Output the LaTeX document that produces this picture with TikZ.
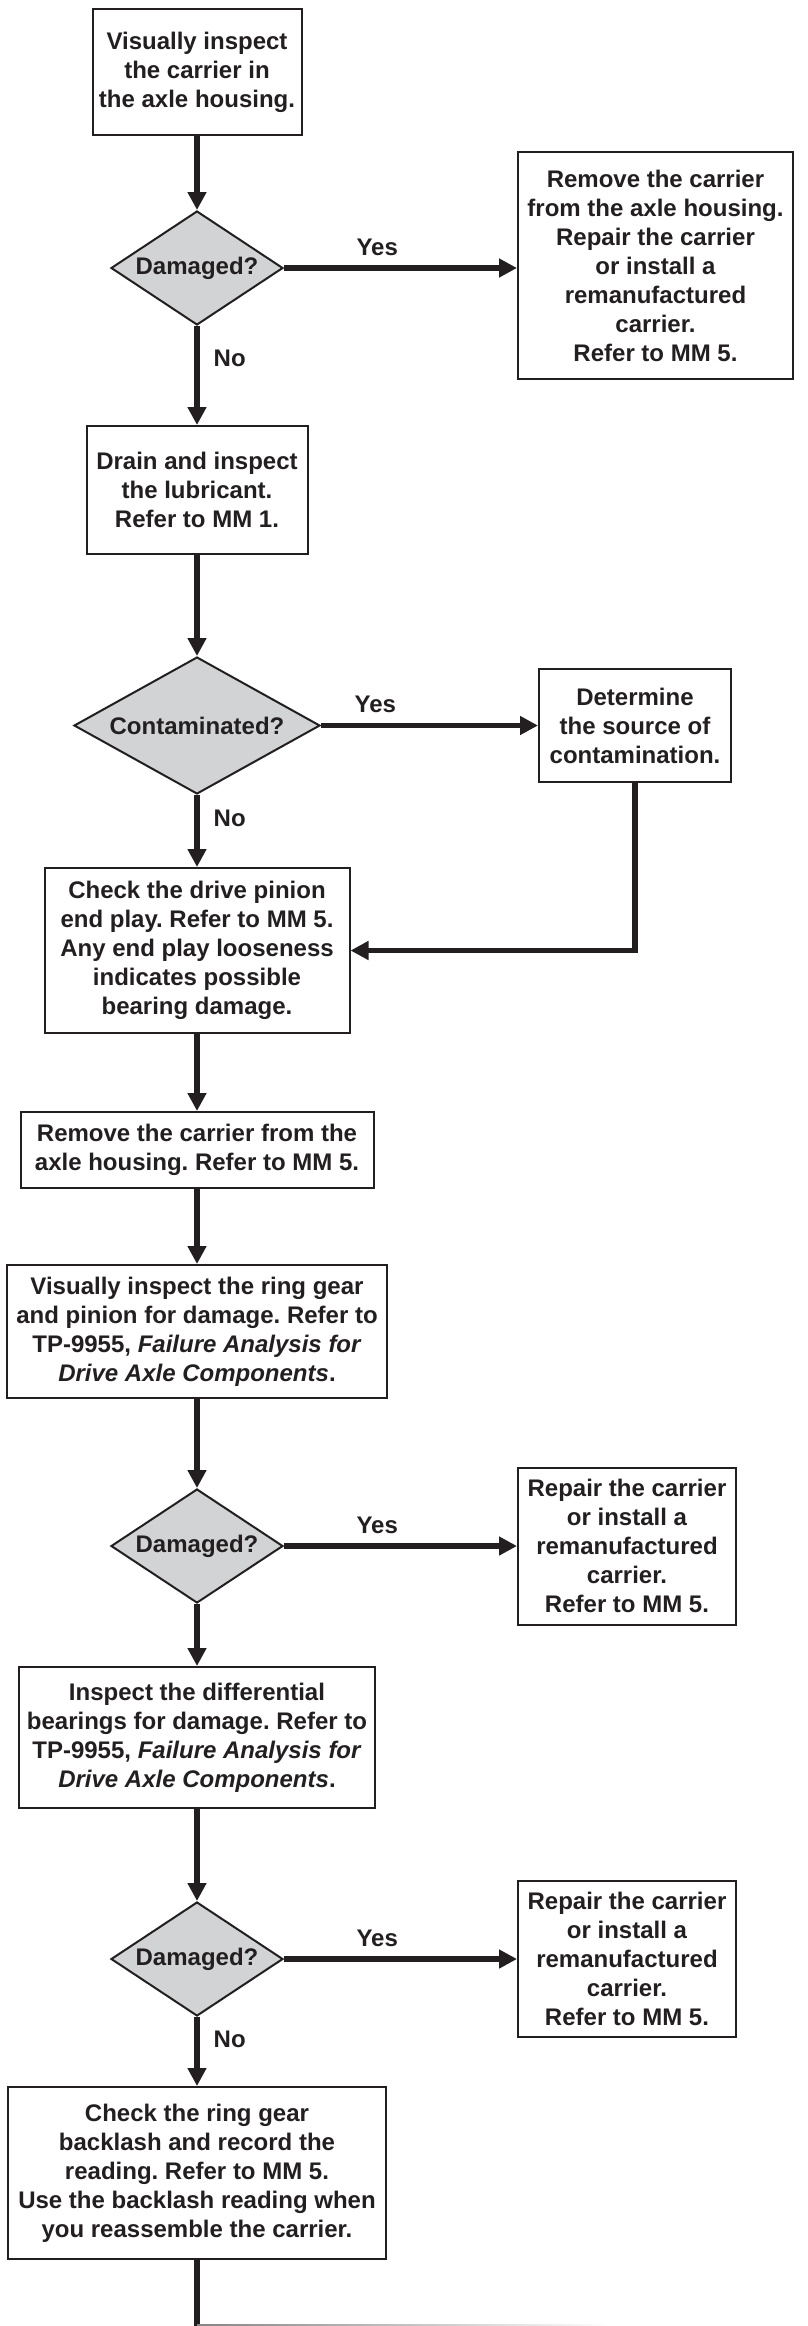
\documentclass[tikz,border=0pt]{standalone}
\usepackage{fontspec}
\setmainfont{Liberation Sans}
\usepackage{tikz}
\usetikzlibrary{
  arrows.meta,
  shapes.geometric,
  positioning
}
\definecolor{axInk}{HTML}{231F20}
\definecolor{axShade}{HTML}{D1D3D4}
\tikzset{
  fcnode/.style={
    draw=axInk, line width=1pt, text=axInk, align=center, inner sep=2pt,
    font=\fontsize{12}{14.5}\selectfont\bfseries\frenchspacing
  },
  actbox/.style={fcnode, rectangle, fill=white},
  fixbox/.style={actbox},
  decide/.style={fcnode, diamond, aspect=1.5, fill=axShade, inner sep=0pt, minimum width=86pt, minimum height=57pt},
  link/.style={line width=2.7pt, draw=axInk},
  flow/.style={link, -{Triangle[length=9pt, width=9pt]}},
  yeslbl/.style={font=\fontsize{12}{14.5}\selectfont\bfseries, text=axInk, inner sep=0pt, above=5pt},
  nolbl/.style={font=\fontsize{12}{14.5}\selectfont\bfseries, text=axInk, inner sep=0pt, right=7pt}
}

\begin{document}
\begin{tikzpicture}
  \useasboundingbox (0,0) rectangle (404pt,-1163pt);
  \node[actbox, minimum width=104.5pt, minimum height=63pt] (look) at (98.5pt,-36pt) {Visually inspect\\the carrier in\\the axle housing.};
  \node[decide, below=37pt of look] (dmgA) {Damaged?};
  \node[fixbox, minimum width=137.5pt, minimum height=113.5pt, right=116.5pt of dmgA, yshift=1.25pt] (fixA) {Remove the carrier\\from the axle housing.\\Repair the carrier\\or install a\\remanufactured\\carrier.\\Refer to MM 5.};
  \node[actbox, minimum width=110.5pt, minimum height=64pt, below=49.5pt of dmgA] (lube) {Drain and inspect\\the lubricant.\\Refer to MM 1.};
  \node[decide, aspect=1.8, minimum width=123pt, minimum height=68.5pt, below=50.5pt of lube] (dirt) {Contaminated?};
  \node[fixbox, minimum width=96pt, minimum height=56.5pt, right=108.5pt of dirt] (source) {Determine\\the source of\\contamination.};
  \node[actbox, minimum width=152.5pt, minimum height=82.5pt, below=36pt of dirt] (play) {Check the drive pinion\\end play. Refer to MM 5.\\Any end play looseness\\indicates possible\\bearing damage.};
  \node[actbox, minimum width=176.5pt, minimum height=38pt, below=38.5pt of play] (pull) {Remove the carrier from the\\axle housing. Refer to MM 5.};
  \node[actbox, minimum width=190pt, minimum height=66.5pt, below=37.5pt of pull] (gear) {Visually inspect the ring gear\\and pinion for damage. Refer to\\TP-9955, \textit{Failure Analysis for}\\\textit{Drive Axle Components}.};
  \node[decide, below=44.5pt of gear] (dmgB) {Damaged?};
  \node[fixbox, minimum width=109pt, minimum height=78.5pt, right=116.5pt of dmgB] (fixB) {Repair the carrier\\or install a\\remanufactured\\carrier.\\Refer to MM 5.};
  \node[actbox, minimum width=178pt, minimum height=70.5pt, below=31pt of dmgB] (bearing) {Inspect the differential\\bearings for damage. Refer to\\TP-9955, \textit{Failure Analysis for}\\\textit{Drive Axle Components}.};
  \node[decide, below=46pt of bearing] (dmgC) {Damaged?};
  \node[fixbox, minimum width=109pt, minimum height=78pt, right=116.5pt of dmgC] (fixC) {Repair the carrier\\or install a\\remanufactured\\carrier.\\Refer to MM 5.};
  \node[actbox, minimum width=189pt, minimum height=86pt, below=34.5pt of dmgC] (lash) {Check the ring gear\\backlash and record the\\reading. Refer to MM 5.\\Use the backlash reading when\\you reassemble the carrier.};
  \coordinate (tail) at (305pt,-1163.5pt);

  \draw[flow] (look) -- (dmgA);
  \draw[flow] (dmgA) -- node[yeslbl, pos=.40] {Yes} (dmgA -| fixA.west);
  \draw[flow] (dmgA) -- node[nolbl, pos=.33] {No} (lube);
  \draw[flow] (lube) -- (dirt);
  \draw[flow] (dirt) -- node[yeslbl, pos=.25] {Yes} (source);
  \draw[flow] (dirt) -- node[nolbl, pos=.33] {No} (play);
  \draw[flow] (source.south) |- (play.east);
  \draw[flow] (play) -- (pull);
  \draw[flow] (pull) -- (gear);
  \draw[flow] (gear) -- (dmgB);
  \draw[flow] (dmgB) -- node[yeslbl, pos=.40] {Yes} (fixB);
  \draw[flow] (dmgB) -- (bearing);
  \draw[flow] (bearing) -- (dmgC);
  \draw[flow] (dmgC) -- node[yeslbl, pos=.40] {Yes} (fixC);
  \draw[flow] (dmgC) -- node[nolbl, pos=.33] {No} (lash);
  \draw[link] (lash.south) -- (lash.south |- tail);
  \shade[left color=axInk!55, right color=white] ([yshift=1.35pt]lash.south |- tail) rectangle ([yshift=-1.35pt]tail);
\end{tikzpicture}
\end{document}
